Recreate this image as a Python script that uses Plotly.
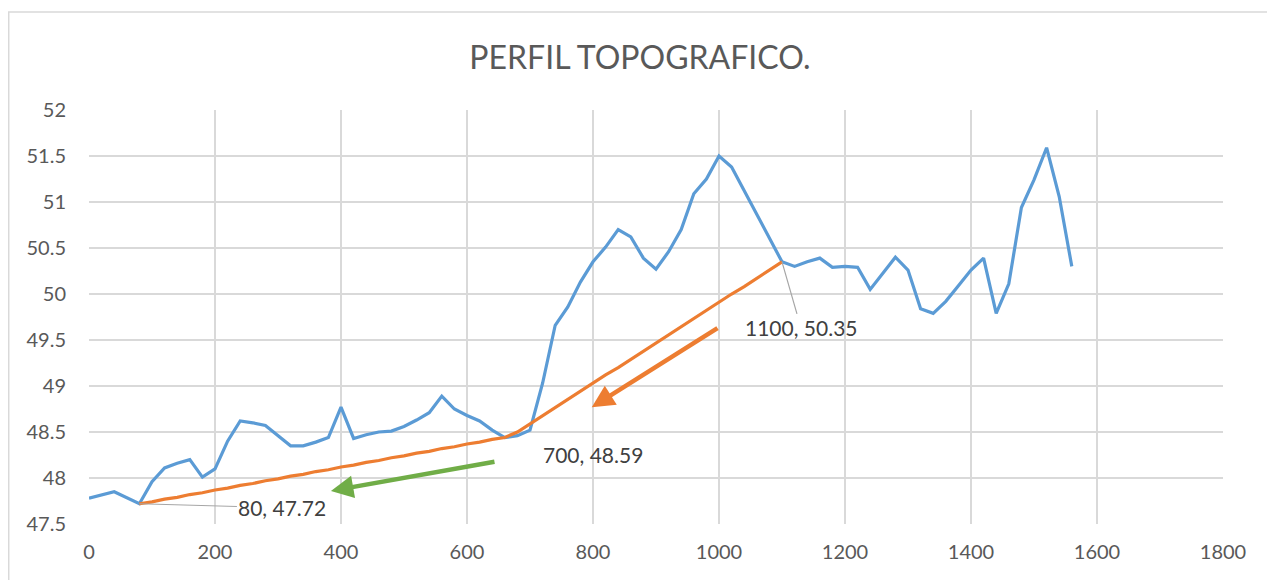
import plotly.graph_objects as go

# Blue series: terrain profile
dist = [0, 40, 80, 100, 120, 140, 160, 180, 200, 220, 240, 260, 280, 300, 320, 340, 360, 380,
        400, 420, 440, 460, 480, 500, 520, 540, 560, 580, 600, 620, 640, 660, 680, 700,
        720, 740, 760, 780, 800, 820, 840, 860, 880, 900, 920, 940, 960, 980, 1000, 1020,
        1040, 1060, 1080, 1100, 1120, 1140, 1160, 1180, 1200, 1220, 1240, 1260, 1280, 1300,
        1320, 1340, 1360, 1380, 1400, 1420, 1440, 1460, 1480, 1500, 1520, 1540, 1560]
elev = [47.78, 47.85, 47.72, 47.96, 48.11, 48.16, 48.20, 48.01, 48.10, 48.40, 48.62, 48.60, 48.57, 48.46,
        48.35, 48.35, 48.39, 48.44, 48.77, 48.43, 48.47, 48.50, 48.51, 48.56, 48.63, 48.71, 48.89,
        48.75, 48.68, 48.62, 48.52, 48.44, 48.46, 48.52, 49.03, 49.66, 49.86, 50.13, 50.35, 50.51,
        50.70, 50.62, 50.39, 50.27, 50.46, 50.70, 51.09, 51.25, 51.50, 51.38, 51.12, 50.87, 50.61,
        50.35, 50.30, 50.35, 50.39, 50.29, 50.30, 50.29, 50.05, 50.22, 50.40, 50.26, 49.84, 49.79,
        49.92, 50.09, 50.26, 50.39, 49.79, 50.11, 50.94, 51.24, 51.59, 51.06, 50.30]

# Orange series: grade line
grade_dist = [80, 100, 120, 140, 160, 180, 200, 220, 240, 260, 280, 300, 320, 340, 360, 380, 400,
              420, 440, 460, 480, 500, 520, 540, 560, 580, 600, 620, 640, 660, 680, 700, 720, 740,
              760, 780, 800, 820, 840, 860, 880, 900, 920, 940, 960, 980, 1000, 1020, 1040, 1060,
              1080, 1100]
grade_elev = [47.72, 47.74, 47.77, 47.79, 47.82, 47.84, 47.87, 47.89, 47.92, 47.94, 47.97, 47.99,
              48.02, 48.04, 48.07, 48.09, 48.12, 48.14, 48.17, 48.19, 48.22, 48.24, 48.27, 48.29,
              48.32, 48.34, 48.37, 48.39, 48.42, 48.44, 48.50, 48.59, 48.68, 48.77, 48.85, 48.94,
              49.03, 49.12, 49.20, 49.29, 49.38, 49.47, 49.56, 49.64, 49.73, 49.82, 49.91, 50.00,
              50.08, 50.17, 50.26, 50.35]

x_ticks = [0, 200, 400, 600, 800, 1000, 1200, 1400, 1600, 1800]
y_ticks = [47.5, 48, 48.5, 49, 49.5, 50, 50.5, 51, 51.5, 52]
y_labels = ["47.5", "48", "48.5", "49", "49.5", "50", "50.5", "51", "51.5", "52"]

title_text = "PERFIL TOPOGRAFICO."
labels = [(80, 47.72, "80, 47.72"), (700, 48.59, "700, 48.59"), (1100, 50.35, "1100, 50.35")]

FONT = "Lato"
TXT = "#595959"
GRID = "#d9d9d9"

fig = go.Figure()
fig.add_trace(go.Scatter(x=dist, y=elev, mode="lines",
                         line=dict(color="#5b9bd5", width=3.2), hoverinfo="skip"))
fig.add_trace(go.Scatter(x=grade_dist, y=grade_elev, mode="lines",
                         line=dict(color="#ed7d31", width=3.2), hoverinfo="skip"))

# data labels
fig.add_annotation(x=labels[0][0], y=labels[0][1], text=labels[0][2], showarrow=True,
                   arrowhead=0, arrowwidth=1.2, arrowcolor="#a6a6a6", ax=143, ay=4,
                   font=dict(family=FONT, size=21, color="#404040"))
fig.add_annotation(x=labels[1][0], y=labels[1][1], text=labels[1][2], showarrow=False,
                   xshift=63, yshift=-31,
                   font=dict(family=FONT, size=21, color="#404040"))
fig.add_annotation(x=labels[2][0], y=labels[2][1], text=labels[2][2], showarrow=True,
                   arrowhead=0, arrowwidth=1.2, arrowcolor="#a6a6a6", ax=19, ay=66,
                   font=dict(family=FONT, size=21, color="#404040"))

# drawn arrows
fig.add_annotation(x=384, y=47.86, ax=646, ay=48.18, axref="x", ayref="y", xref="x", yref="y",
                   text="", showarrow=True, arrowhead=2, arrowsize=1, arrowwidth=4.5,
                   arrowcolor="#70ad47")
fig.add_annotation(x=798, y=48.77, ax=1000, ay=49.64, axref="x", ayref="y", xref="x", yref="y",
                   text="", showarrow=True, arrowhead=2, arrowsize=1, arrowwidth=4.5,
                   arrowcolor="#ed7d31")

# outer chart border
fig.add_shape(type="rect", xref="paper", yref="paper", x0=-0.0708, x1=1.045, y0=-0.25, y1=1.2367,
              line=dict(color=GRID, width=1.5), fillcolor="rgba(0,0,0,0)", layer="below")

fig.update_layout(
    width=1275, height=580,
    margin=dict(l=81, r=60, t=102, b=64),
    paper_bgcolor="white", plot_bgcolor="white",
    showlegend=False,
    title=dict(text=title_text, x=632 / 1275, xref="container", xanchor="center",
               y=1 - 50 / 580, yref="container", yanchor="middle",
               font=dict(family=FONT, size=32, color=TXT)),
    xaxis=dict(range=[0, 1800], tickvals=x_ticks, ticktext=[str(v) for v in x_ticks],
               showgrid=True, gridcolor=GRID, gridwidth=1.5, zeroline=False,
               showline=False, ticks="", ticklabelstandoff=14,
               tickfont=dict(family=FONT, size=20, color=TXT), fixedrange=True),
    yaxis=dict(range=[47.5, 52], tickvals=y_ticks, ticktext=y_labels,
               showgrid=True, gridcolor=GRID, gridwidth=1.5, zeroline=False,
               showline=False, ticks="", ticklabelstandoff=22,
               tickfont=dict(family=FONT, size=20, color=TXT), fixedrange=True),
)
fig.write_html("out.html")
